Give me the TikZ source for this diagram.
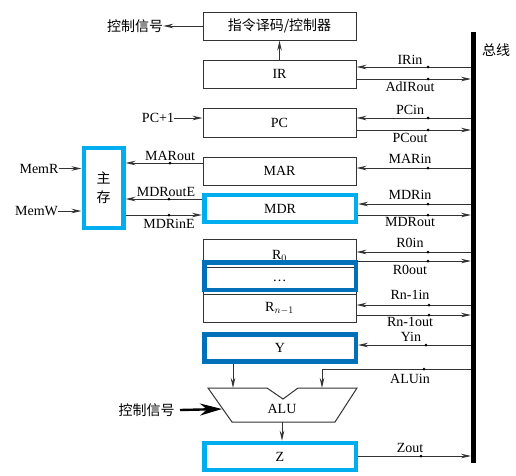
\documentclass[tikz,border=0pt]{standalone}
\usepackage{fontspec}
\setmainfont{Liberation Serif}
\newfontfamily\cjk{Noto Sans CJK SC}
\usetikzlibrary{arrows.meta}
\definecolor{framecyan}{HTML}{00AEEF}
\definecolor{frameblue}{HTML}{0070B8}
\definecolor{wire}{HTML}{333333}
\tikzset{
regbox/.style={draw=wire,line width=1pt,minimum width=153pt,minimum height=28pt,inner sep=0pt,font=\fontsize{14}{16}\selectfont},
thickbox/.style={regbox,line width=4.5pt,minimum width=151.5pt,minimum height=27pt},
sig/.style={draw=wire,line width=1pt,-{Stealth[length=10pt,width=4.5pt]}},
sigdot/.style={circle,fill=black,inner sep=0pt,minimum size=3pt},
siglab/.style={inner sep=0pt,font=\fontsize{14}{16}\selectfont},
cjklab/.style={inner sep=0pt,font=\cjk\fontsize{14}{16}\selectfont}
}
\begin{document}
\begin{tikzpicture}[x=1pt,y=-1pt]
\useasboundingbox(0,0)rectangle(516,475);
\node[fill=black,minimum width=4.5pt,minimum height=431pt,inner sep=0pt](bus)at(473.5,247.5){};
\node[cjklab](busname)at(496,50){总线};
% registers
\node[regbox,font=\cjk\fontsize{14}{16}\selectfont](ctrl)at(279.5,26){指令译码/控制器};
\node[regbox](ir)at(279.5,74){IR};
\node[regbox,minimum height=29pt](pc)at(279.5,122.5){PC};
\node[regbox](mar)at(279.5,171){MAR};
\node[thickbox,draw=framecyan](mdr)at(280,208.5){MDR};
\node[regbox,text height=20pt,text depth=8pt](r0)at(279.5,253){R$_0$};
\node[regbox,minimum height=27pt](rdots)at(279.5,280.5){\ldots};
\node[regbox](rn)at(279.5,308){R$_{n-1}$};
\node[thickbox,draw=frameblue,minimum height=27.5pt](rframe)at(280,276.2){};
\node[thickbox,draw=frameblue](y)at(280,348){Y};
\node[thickbox,draw=framecyan](z)at(280,456.5){Z};
\node[thickbox,draw=framecyan,minimum width=39.5pt,minimum height=80pt,font=\cjk\fontsize{14}{19}\selectfont,align=center](mem)at(103.5,188){主\\存};
% ALU
\draw[wire,line width=1pt](208,388)--(267,388)--(283,399)--(298,388)--(357,388)--(335,422)--(232,422)--cycle;
\node[siglab](alu)at(282,409){ALU};
\coordinate(aluA)at(233,388);\coordinate(aluB)at(322,388);\coordinate(aluC)at(282,422);\coordinate(aluL)at(222,409);
\draw[sig](y.south-|aluA)--(aluA);\draw[sig](aluC)--(z.north-|aluC);
\node[cjklab](aluctrl)at(146.5,410){控制信号};
\draw[draw=black,line width=2.4pt,-{Stealth[length=22pt,width=12pt]}](aluctrl.east-|180,0)--(aluL);
% top
\node[cjklab](ctrlout)at(135,26){控制信号};
\draw[sig](ctrl.west)--(ctrlout.east);\draw[sig](ir.north)--(ctrl.south);
\node[siglab](pcinc)at(158,118){PC+1};\draw[sig](pcinc.east)--(pc.west|-pcinc.east);
% bus side
\draw[sig](bus.west|-0,67)--(ir.east|-0,67);\node[sigdot](dIRin)at(428,67){};\node[siglab](lIRin)at(410,60){IRin};
\draw[sig](ir.east|-0,79)--(bus.west|-0,79);\node[sigdot](dAdIR)at(428,79){};\node[siglab](lAdIR)at(410,87){AdIRout};
\draw[sig](bus.west|-0,118)--(pc.east|-0,118);\node[sigdot](dPCin)at(428,118){};\node[siglab](lPCin)at(410,110){PCin};
\draw[sig](pc.east|-0,130)--(bus.west|-0,130);\node[sigdot](dPCout)at(428,130){};\node[siglab](lPCout)at(410,138){PCout};
\draw[sig](bus.west|-0,168)--(mar.east|-0,168);\node[sigdot](dMARin)at(428,168){};\node[siglab](lMARin)at(410,159){MARin};
\draw[sig](bus.west|-0,204)--(mdr.east|-0,204);\node[sigdot](dMDRin)at(428,204){};\node[siglab](lMDRin)at(410,195){MDRin};
\draw[sig](mdr.east|-0,215)--(bus.west|-0,215);\node[sigdot](dMDRout)at(428,215){};\node[siglab](lMDRout)at(410,222){MDRout};
\draw[sig](bus.west|-0,252)--(r0.east|-0,252);\node[sigdot](dR0in)at(428,252){};\node[siglab](lR0in)at(410,243){R0in};
\draw[sig](r0.east|-0,261)--(bus.west|-0,261);\node[sigdot](dR0out)at(428,261){};\node[siglab](lR0out)at(410,270){R0out};
\draw[sig](bus.west|-0,305)--(rn.east|-0,305);\node[sigdot](dRnin)at(429,305){};\node[siglab](lRnin)at(410,295){Rn-1in};
\draw[sig](rn.east|-0,315)--(bus.west|-0,315);\node[sigdot](dRnout)at(429,315){};\node[siglab](lRnout)at(410,322){Rn-1out};
\draw[sig](bus.west|-0,345)--(y.east|-0,345);\node[sigdot](dYin)at(426,345){};\node[siglab](lYin)at(411,337){Yin};
\draw[sig](bus.west|-0,369)-|(aluB);\node[sigdot](dALUin)at(424,369){};\node[siglab](lALUin)at(410,379){ALUin};
\draw[sig](z.east|-0,456)--(bus.west|-0,456);\node[sigdot](dZout)at(421,456){};\node[siglab](lZout)at(410,448){Zout};
% memory side
\draw[sig](mar.west|-0,163)--(mem.east|-0,163);\node[sigdot](dMARout)at(170,163){};\node[siglab](lMARout)at(170,156){MARout};
\draw[sig](mdr.west|-0,199)--(mem.east|-0,199);\node[sigdot](dMDRoutE)at(169,199){};\node[siglab](lMDRoutE)at(166,192){MDRoutE};
\draw[sig](mem.east|-0,215)--(mdr.west|-0,215);\node[sigdot](dMDRinE)at(169,215){};\node[siglab](lMDRinE)at(169,224){MDRinE};
\node[siglab](memr)at(39,168.5){MemR};\draw[sig](memr.east)--(mem.west|-memr.east);
\node[siglab](memw)at(36.5,211){MemW};\draw[sig](memw.east)--(mem.west|-memw.east);
\end{tikzpicture}
\end{document}
